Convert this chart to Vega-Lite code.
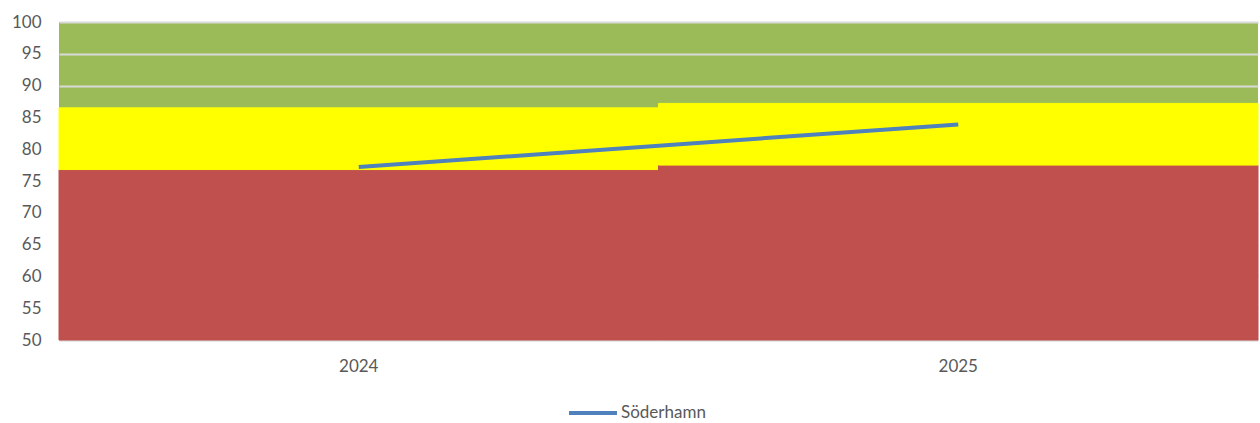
{
  "$schema": "https://vega.github.io/schema/vega-lite/v6.json",
  "autosize": {"type": "none"},
  "width": 1199,
  "height": 318,
  "padding": {"left": 59, "top": 22, "right": 2, "bottom": 83},
  "background": "white",
  "config": {
    "view": {"fill": "#9BBB59", "stroke": null},
    "font": "Lato",
    "axisY": {
      "values": [50, 55, 60, 65, 70, 75, 80, 85, 90, 95, 100],
      "labelOverlap": false,
      "domain": false, "ticks": false, "labelColor": "#595959",
      "labelFontSize": 17, "labelPadding": 18,
      "gridColor": "#d9d9d9", "gridWidth": 2
    }
  },
  "datasets": {
    "bands": [
      {"year": "2024", "band": "röd", "start": 50, "end": 76.8},
      {"year": "2024", "band": "gul", "start": 76.8, "end": 86.5},
      {"year": "2025", "band": "röd", "start": 50, "end": 77.5},
      {"year": "2025", "band": "gul", "start": 77.5, "end": 87.2}
    ],
    "series": [
      {"year": "2024", "series": "Söderhamn", "value": 77.2},
      {"year": "2025", "series": "Söderhamn", "value": 83.9}
    ]
  },
  "layer": [
    {
      "data": {"name": "bands"},
      "mark": {"type": "bar", "strokeWidth": 1},
      "encoding": {
        "x": {
          "field": "year", "type": "nominal",
          "scale": {"paddingInner": 0, "paddingOuter": 0},
          "axis": {
            "title": null, "labelAngle": 0, "ticks": false,
            "domainColor": "#d9d9d9", "domainWidth": 1.5,
            "labelColor": "#595959", "labelFontSize": 17, "labelPadding": 18,
            "grid": false
          }
        },
        "y": {
          "field": "start", "type": "quantitative",
          "scale": {"domain": [50, 100], "nice": false, "zero": false},
          "axis": {
            "title": null,
            "values": [50, 55, 60, 65, 70, 75, 80, 85, 90, 95, 100],
            "labelOverlap": false
          }
        },
        "y2": {"field": "end"},
        "color": {
          "field": "band", "type": "nominal",
          "scale": {"domain": ["röd", "gul"], "range": ["#C0504D", "#FFFF00"]},
          "legend": null
        },
        "stroke": {
          "field": "band", "type": "nominal",
          "scale": {"domain": ["röd", "gul"], "range": ["#C0504D", "#FFFF00"]},
          "legend": null
        }
      }
    },
    {
      "data": {"name": "series"},
      "mark": {"type": "line", "strokeWidth": 4},
      "encoding": {
        "x": {"field": "year", "type": "nominal"},
        "y": {
          "field": "value", "type": "quantitative",
          "axis": {
            "title": null,
            "values": [50, 55, 60, 65, 70, 75, 80, 85, 90, 95, 100],
            "labelOverlap": false
          }
        },
        "stroke": {
          "field": "series", "type": "nominal",
          "scale": {"range": ["#4F81BD"]},
          "legend": {
            "title": null, "orient": "none", "legendX": 508, "legendY": 365,
            "symbolType": "stroke", "symbolSize": 2300, "symbolStrokeWidth": 4,
            "labelFontSize": 17, "labelColor": "#595959", "labelOffset": 2
          }
        }
      }
    }
  ],
  "resolve": {"scale": {"stroke": "independent"}}
}
